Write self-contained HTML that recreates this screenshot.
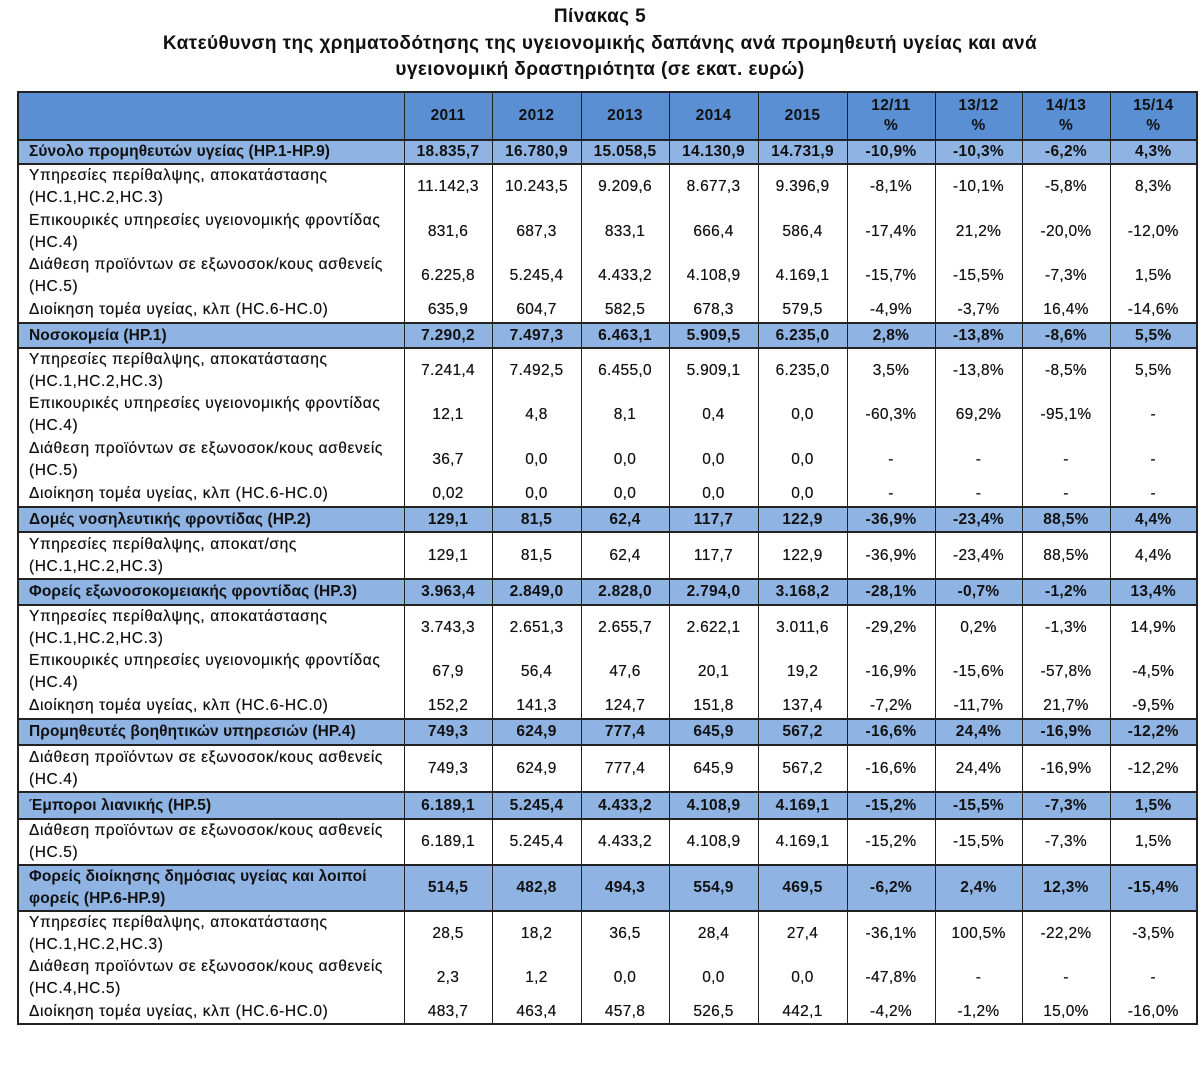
<!DOCTYPE html>
<html><head><meta charset="utf-8"><style>
body{margin:0;width:1200px;height:1075px;background:#fff;font-family:"Liberation Sans",sans-serif;color:#111;}
.t{position:absolute;left:0;width:1200px;text-align:center;font-weight:bold;font-size:19px;letter-spacing:0.4px;}
table{position:absolute;left:17px;top:91px;border-collapse:collapse;table-layout:fixed;font-size:15.5px;border:2px solid #222;}
td{border-left:1.5px solid #222;border-right:1.5px solid #222;padding:0;text-align:center;vertical-align:middle;white-space:nowrap;overflow:hidden;line-height:22px;letter-spacing:0.3px;text-shadow:0 0 0.4px #111;}
td:first-child{text-align:left;padding-left:10px;letter-spacing:0.6px;}
tr.h td{background:#5b8fd4;font-weight:bold;border-bottom:2px solid #222;line-height:20px;text-shadow:none;}
tr.s td{background:#8fb3e3;font-weight:bold;border-top:2px solid #222;border-bottom:2px solid #222;text-shadow:none;}
tr.s td:first-child{letter-spacing:0.1px;}
</style></head><body>
<div class="t" style="top:6px">Πίνακας 5</div>
<div class="t" style="top:33px">Κατεύθυνση της χρηματοδότησης της υγειονομικής δαπάνης ανά προμηθευτή υγείας και ανά</div>
<div class="t" style="top:59px">υγειονομική δραστηριότητα (σε εκατ. ευρώ)</div>
<table>
<colgroup><col style="width:386px"><col style="width:88px"><col style="width:89px"><col style="width:88px"><col style="width:89px"><col style="width:89px"><col style="width:88px"><col style="width:87px"><col style="width:88px"><col style="width:87px"></colgroup>
<tr class="h" style="height:48px"><td></td><td>2011</td><td>2012</td><td>2013</td><td>2014</td><td>2015</td><td>12/11<br>%</td><td>13/12<br>%</td><td>14/13<br>%</td><td>15/14<br>%</td></tr>
<tr class="s" style="height:23px"><td>Σύνολο προμηθευτών υγείας (HP.1-HP.9)</td><td>18.835,7</td><td>16.780,9</td><td>15.058,5</td><td>14.130,9</td><td>14.731,9</td><td>-10,9%</td><td>-10,3%</td><td>-6,2%</td><td>4,3%</td></tr>
<tr style="height:45px"><td>Υπηρεσίες περίθαλψης, αποκατάστασης<br>(HC.1,HC.2,HC.3)</td><td>11.142,3</td><td>10.243,5</td><td>9.209,6</td><td>8.677,3</td><td>9.396,9</td><td>-8,1%</td><td>-10,1%</td><td>-5,8%</td><td>8,3%</td></tr>
<tr style="height:45px"><td>Επικουρικές υπηρεσίες υγειονομικής φροντίδας<br>(HC.4)</td><td>831,6</td><td>687,3</td><td>833,1</td><td>666,4</td><td>586,4</td><td>-17,4%</td><td>21,2%</td><td>-20,0%</td><td>-12,0%</td></tr>
<tr style="height:44px"><td>Διάθεση προϊόντων σε εξωνοσοκ/κους ασθενείς<br>(HC.5)</td><td>6.225,8</td><td>5.245,4</td><td>4.433,2</td><td>4.108,9</td><td>4.169,1</td><td>-15,7%</td><td>-15,5%</td><td>-7,3%</td><td>1,5%</td></tr>
<tr style="height:25px"><td>Διοίκηση τομέα υγείας, κλπ (HC.6-HC.0)</td><td>635,9</td><td>604,7</td><td>582,5</td><td>678,3</td><td>579,5</td><td>-4,9%</td><td>-3,7%</td><td>16,4%</td><td>-14,6%</td></tr>
<tr class="s" style="height:25px"><td>Νοσοκομεία (HP.1)</td><td>7.290,2</td><td>7.497,3</td><td>6.463,1</td><td>5.909,5</td><td>6.235,0</td><td>2,8%</td><td>-13,8%</td><td>-8,6%</td><td>5,5%</td></tr>
<tr style="height:44px"><td>Υπηρεσίες περίθαλψης, αποκατάστασης<br>(HC.1,HC.2,HC.3)</td><td>7.241,4</td><td>7.492,5</td><td>6.455,0</td><td>5.909,1</td><td>6.235,0</td><td>3,5%</td><td>-13,8%</td><td>-8,5%</td><td>5,5%</td></tr>
<tr style="height:44px"><td>Επικουρικές υπηρεσίες υγειονομικής φροντίδας<br>(HC.4)</td><td>12,1</td><td>4,8</td><td>8,1</td><td>0,4</td><td>0,0</td><td>-60,3%</td><td>69,2%</td><td>-95,1%</td><td>-</td></tr>
<tr style="height:45px"><td>Διάθεση προϊόντων σε εξωνοσοκ/κους ασθενείς<br>(HC.5)</td><td>36,7</td><td>0,0</td><td>0,0</td><td>0,0</td><td>0,0</td><td>-</td><td>-</td><td>-</td><td>-</td></tr>
<tr style="height:25px"><td>Διοίκηση τομέα υγείας, κλπ (HC.6-HC.0)</td><td>0,02</td><td>0,0</td><td>0,0</td><td>0,0</td><td>0,0</td><td>-</td><td>-</td><td>-</td><td>-</td></tr>
<tr class="s" style="height:25px"><td>Δομές νοσηλευτικής φροντίδας (HP.2)</td><td>129,1</td><td>81,5</td><td>62,4</td><td>117,7</td><td>122,9</td><td>-36,9%</td><td>-23,4%</td><td>88,5%</td><td>4,4%</td></tr>
<tr style="height:47px"><td>Υπηρεσίες περίθαλψης, αποκατ/σης<br>(HC.1,HC.2,HC.3)</td><td>129,1</td><td>81,5</td><td>62,4</td><td>117,7</td><td>122,9</td><td>-36,9%</td><td>-23,4%</td><td>88,5%</td><td>4,4%</td></tr>
<tr class="s" style="height:26px"><td>Φορείς εξωνοσοκομειακής φροντίδας (HP.3)</td><td>3.963,4</td><td>2.849,0</td><td>2.828,0</td><td>2.794,0</td><td>3.168,2</td><td>-28,1%</td><td>-0,7%</td><td>-1,2%</td><td>13,4%</td></tr>
<tr style="height:45px"><td>Υπηρεσίες περίθαλψης, αποκατάστασης<br>(HC.1,HC.2,HC.3)</td><td>3.743,3</td><td>2.651,3</td><td>2.655,7</td><td>2.622,1</td><td>3.011,6</td><td>-29,2%</td><td>0,2%</td><td>-1,3%</td><td>14,9%</td></tr>
<tr style="height:44px"><td>Επικουρικές υπηρεσίες υγειονομικής φροντίδας<br>(HC.4)</td><td>67,9</td><td>56,4</td><td>47,6</td><td>20,1</td><td>19,2</td><td>-16,9%</td><td>-15,6%</td><td>-57,8%</td><td>-4,5%</td></tr>
<tr style="height:25px"><td>Διοίκηση τομέα υγείας, κλπ (HC.6-HC.0)</td><td>152,2</td><td>141,3</td><td>124,7</td><td>151,8</td><td>137,4</td><td>-7,2%</td><td>-11,7%</td><td>21,7%</td><td>-9,5%</td></tr>
<tr class="s" style="height:26px"><td>Προμηθευτές βοηθητικών υπηρεσιών (HP.4)</td><td>749,3</td><td>624,9</td><td>777,4</td><td>645,9</td><td>567,2</td><td>-16,6%</td><td>24,4%</td><td>-16,9%</td><td>-12,2%</td></tr>
<tr style="height:47px"><td>Διάθεση προϊόντων σε εξωνοσοκ/κους ασθενείς<br>(HC.4)</td><td>749,3</td><td>624,9</td><td>777,4</td><td>645,9</td><td>567,2</td><td>-16,6%</td><td>24,4%</td><td>-16,9%</td><td>-12,2%</td></tr>
<tr class="s" style="height:27px"><td>Έμποροι λιανικής (HP.5)</td><td>6.189,1</td><td>5.245,4</td><td>4.433,2</td><td>4.108,9</td><td>4.169,1</td><td>-15,2%</td><td>-15,5%</td><td>-7,3%</td><td>1,5%</td></tr>
<tr style="height:46px"><td>Διάθεση προϊόντων σε εξωνοσοκ/κους ασθενείς<br>(HC.5)</td><td>6.189,1</td><td>5.245,4</td><td>4.433,2</td><td>4.108,9</td><td>4.169,1</td><td>-15,2%</td><td>-15,5%</td><td>-7,3%</td><td>1,5%</td></tr>
<tr class="s" style="height:46px"><td>Φορείς διοίκησης δημόσιας υγείας και λοιποί<br>φορείς (HP.6-HP.9)</td><td>514,5</td><td>482,8</td><td>494,3</td><td>554,9</td><td>469,5</td><td>-6,2%</td><td>2,4%</td><td>12,3%</td><td>-15,4%</td></tr>
<tr style="height:45px"><td>Υπηρεσίες περίθαλψης, αποκατάστασης<br>(HC.1,HC.2,HC.3)</td><td>28,5</td><td>18,2</td><td>36,5</td><td>28,4</td><td>27,4</td><td>-36,1%</td><td>100,5%</td><td>-22,2%</td><td>-3,5%</td></tr>
<tr style="height:44px"><td>Διάθεση προϊόντων σε εξωνοσοκ/κους ασθενείς<br>(HC.4,HC.5)</td><td>2,3</td><td>1,2</td><td>0,0</td><td>0,0</td><td>0,0</td><td>-47,8%</td><td>-</td><td>-</td><td>-</td></tr>
<tr style="height:24px"><td>Διοίκηση τομέα υγείας, κλπ (HC.6-HC.0)</td><td>483,7</td><td>463,4</td><td>457,8</td><td>526,5</td><td>442,1</td><td>-4,2%</td><td>-1,2%</td><td>15,0%</td><td>-16,0%</td></tr>
</table>
</body></html>
